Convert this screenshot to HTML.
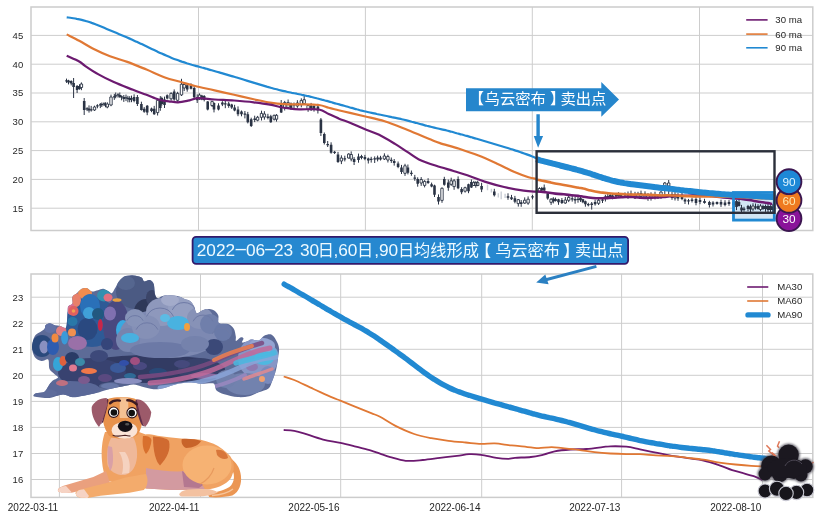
<!DOCTYPE html><html><head><meta charset="utf-8"><style>html,body{margin:0;padding:0;background:#fff;width:818px;height:520px;overflow:hidden}svg{display:block}text{font-family:"Liberation Sans","Noto Sans CJK SC",sans-serif}</style></head><body>
<svg width="818" height="520" viewBox="0 0 818 520">
<rect width="818" height="520" fill="#fff"/>
<path d="M31,208.2H812.8M31,179.4H812.8M31,150.6H812.8M31,121.8H812.8M31,93H812.8M31,64.2H812.8M31,35.4H812.8M198.5,7V230.5M365.4,7V230.5M532.3,7V230.5M699.5,7V230.5" stroke="#cdcdcd" stroke-width="1" fill="none"/>
<rect x="31" y="7" width="781.8" height="223.5" fill="none" stroke="#cccccc" stroke-width="1.5"/>
<text x="23.2" y="211.6" font-size="9.5" fill="#262626" text-anchor="end">15</text>
<text x="23.2" y="182.8" font-size="9.5" fill="#262626" text-anchor="end">20</text>
<text x="23.2" y="154" font-size="9.5" fill="#262626" text-anchor="end">25</text>
<text x="23.2" y="125.2" font-size="9.5" fill="#262626" text-anchor="end">30</text>
<text x="23.2" y="96.4" font-size="9.5" fill="#262626" text-anchor="end">35</text>
<text x="23.2" y="67.6" font-size="9.5" fill="#262626" text-anchor="end">40</text>
<text x="23.2" y="38.8" font-size="9.5" fill="#262626" text-anchor="end">45</text>
<path d="M31,479.5H812.8M31,453.5H812.8M31,427.4H812.8M31,401.4H812.8M31,375.3H812.8M31,349.3H812.8M31,323.3H812.8M31,297.2H812.8M59.4,274V497.4M200.5,274V497.4M340.7,274V497.4M481.7,274V497.4M621.6,274V497.4M762.5,274V497.4" stroke="#cdcdcd" stroke-width="1" fill="none"/>
<rect x="31" y="274" width="781.8" height="223.4" fill="none" stroke="#cccccc" stroke-width="1.5"/>
<text x="23.2" y="482.9" font-size="9.5" fill="#262626" text-anchor="end">16</text>
<text x="23.2" y="456.9" font-size="9.5" fill="#262626" text-anchor="end">17</text>
<text x="23.2" y="430.8" font-size="9.5" fill="#262626" text-anchor="end">18</text>
<text x="23.2" y="404.8" font-size="9.5" fill="#262626" text-anchor="end">19</text>
<text x="23.2" y="378.7" font-size="9.5" fill="#262626" text-anchor="end">20</text>
<text x="23.2" y="352.7" font-size="9.5" fill="#262626" text-anchor="end">21</text>
<text x="23.2" y="326.7" font-size="9.5" fill="#262626" text-anchor="end">22</text>
<text x="23.2" y="300.6" font-size="9.5" fill="#262626" text-anchor="end">23</text>
<text x="58.2" y="511" font-size="10" fill="#262626" text-anchor="end">2022-03-11</text>
<text x="199.3" y="511" font-size="10" fill="#262626" text-anchor="end">2022-04-11</text>
<text x="339.5" y="511" font-size="10" fill="#262626" text-anchor="end">2022-05-16</text>
<text x="480.5" y="511" font-size="10" fill="#262626" text-anchor="end">2022-06-14</text>
<text x="620.4" y="511" font-size="10" fill="#262626" text-anchor="end">2022-07-13</text>
<text x="761.3" y="511" font-size="10" fill="#262626" text-anchor="end">2022-08-10</text>
<rect x="733.5" y="192.5" width="40.8" height="27.6" fill="#d2e6f4"/>
<g id="candles">
<path d="M66.5,78.6V82.9M68.5,79.8V84.4M71.2,80.3V85.4M73.6,78V98M77.1,85V93M79.5,84.3V89.7M81.4,82.4V90.2M84.2,98V115M87.1,107.2V111.1M89,105.4V112.6M91.2,105.9V111.6M94.5,105.7V110.9M97.4,104.2V108.3M100.3,103V108.1M101.8,102.5V107M104,102.3V106.1M105.5,102.3V107.3M107.3,102.3V108.3M111,94.6V106.2M114.3,93.9V99.9M115.7,92.5V98.3M118,93.2V97.6M119.8,92.5V97.9M121.6,95.4V100.3M123.8,95V101.9M126,94.6V101.1M127.9,95.8V102.3M129.7,96.2V102.3M131.5,95.6V102.2M134.1,94.3V102.3M137.4,95V106M141.4,101.7V110.6M144.2,107.1V112.8M147.2,105V115.2M151.5,107.6V112.2M154.2,105.9V114.9M157.6,98.3V115.5M160.3,96.1V110.8M161.8,96.7V105.6M164.5,96.6V108M167.2,94.4V99.4M171.1,92.3V100.6M174.2,89.4V100.7M177.6,91.8V101.8M181.5,78.8V96M184.2,82.5V91.1M187.2,83.4V91.7M191,83.4V89.4M194.2,85.1V99.8M197.2,94.3V103M199.5,93.4V99.8M201.8,94.8V100.2M204.2,95.1V101.4M207.7,101.1V110.4M212.1,100.8V107M214,102.4V112.4M218.5,103.3V110.4M222.4,101.2V106.1M225.3,100.2V108.2M228.7,101.8V107.8M231.7,103.8V108.9M234.6,104.8V111.3M238,106.4V116.2M241.5,110.5V116.3M244.9,111V118.4M247.8,111.9V123.4M251.2,117.7V127M254.7,115.7V122.1M257.6,115.9V121.3M261.5,110.7V120.5M264.4,111.2V119.7M267.9,113.8V119.4M270.8,114.8V122.8M274.2,114.7V120.5M276.5,114.1V121.6M281.2,100V113M284.7,100.9V110.5M288.1,99.5V109M291,102.5V109.6M294,102.5V108.2M297.4,100.2V107.8M301.3,98.3V107.3M304.2,95.8V105M308.1,104.8V111.8M311.1,102.9V111M314,105V111.6M317.9,103.8V113.5M320.9,118V136M324.3,132.5V144.5M327.7,141V147M331.1,142.3V153.7M334.6,150.9V154M338,151.9V162.9M341.4,155.3V164.1M344.8,155.7V161.4M348.7,153.2V158.5M351.2,151.4V161.3M354.1,157.1V165M358.5,153.6V162.7M361.5,154.8V159.3M364.9,154.9V160.2M368.3,157.6V163.5M371.2,156.8V162.6M374.7,156.4V163M377.6,155.6V161.4M380.5,155.8V160.5M384.4,153.3V160M387.9,154.7V162.5M391.3,157.5V162.9M394.2,159V165.6M398.1,161.5V168.2M401.5,164.9V174M405,163.8V175.9M407.9,164.5V174.4M411.4,170.5V175.8M414.8,174.9V180.8M417.7,177.3V186.7M421.2,177.1V185.9M424.6,180.2V187.4M428.1,178.2V183.9M431.6,182.6V187.3M434.5,184.7V197M438.5,194.4V204.5M442,187.4V202.8M444.3,176.8V185.7M448.3,179.6V190.8M451.2,177.7V185.9M454.1,179V189.8M458.1,176.4V189.2M461.6,187.2V194.2M465.1,186.7V192.6M468.5,183.7V193.2M471.4,179.5V188M473.8,180.9V186M475.8,181.2V187.7M477.7,180.7V186.2M481.6,182.8V192.1M494.3,188.8V196.5M508,193.3V199.8M511.5,194.9V199.9M514.9,195.9V203.3M518.3,199V206.6M521.2,200V206.8M524.7,197.4V203.8M528.1,196.4V204.8M532.5,194.9V199.3M539.5,187.3V192.2M541.8,186.9V191.3M544.2,184.5V191M547.7,192.5V199.7M551.1,198V204.9M553.3,197.2V203.4M555.5,197.6V201.5M558.5,198.8V204.8M561.9,198V204M565.3,197V203.8M568.7,195.7V202.1M572.2,195.2V201.6M575.1,196.6V203.7M578,195.7V202.7M580.5,195.8V201.9M582.9,198.7V203.2M585.4,200.6V206.7M588.3,202.8V206.4M591.7,202V209.6M595.1,199.7V205.6M598.6,199V205M602.5,198V203M605.4,194.8V201.5M607.8,193.5V199.2M610.2,193.7V199M612.6,193.5V199.3M616,193V198.4M618.5,192.3V196.7M621,193.4V197.6M625,192.4V198.1M628,191.5V198.8M631,190.6V197.6M635,191.8V198.9M638,191.8V197.6M641,190.6V198.7M645,191.3V197.9M648,193.1V200.8M651,192.3V200.6M655,191.7V199.4M658,194.4V198.9M661,191.2V198.8M664.8,182V195M668.7,180V196M672,191.7V199.8M675,191.8V200.5M678,193.1V200.8M682,193V200.2M685,198.3V204M688.5,198.9V204.5M692,197.7V202.5M696,197.2V205.3M700,197.4V204.2M704.5,198.8V203.7M709.4,200.8V207.5M713,201.2V206.5M717,201.5V204.7M721,199.7V206.9M725,200.2V206.3M729,200.1V205.8M733.8,201.2V208.2M736.5,200V210.1M739,199V206.5M741.5,204.9V213.6M744,206.8V211.6M748,204.9V211.1M750.5,204.6V212.6M753,203.3V210.9M755.5,203.5V209.6M758,204.2V209.6M760.5,204.2V211.2M763,204.7V209.9M765.5,204.5V211.8M768,203.5V212.8M770.5,205.2V213M772.8,204.1V212.9" stroke="#2a3344" stroke-width="1" fill="none"/>
<path d="M65.2,80.3h2.6v1.3h-2.6zM67.2,80.5h2.6v2h-2.6zM69.9,81h2.6v2.5h-2.6zM72.3,83h2.6v4h-2.6zM75.8,86h2.6v4h-2.6zM78.2,86h2.6v3h-2.6zM82.9,101h2.6v9h-2.6zM85.8,108.3h2.6v1.3h-2.6zM87.7,108.5h2.6v2h-2.6zM89.9,109.3h2.6v1.3h-2.6zM96.1,105.3h2.6v1.3h-2.6zM99,104.3h2.6v1.3h-2.6zM100.5,104h2.6v1.2h-2.6zM102.7,103.3h2.6v1.3h-2.6zM104.2,104.3h2.6v1.3h-2.6zM113,96.3h2.6v1.3h-2.6zM114.4,95.3h2.6v1.3h-2.6zM116.7,94.3h2.6v1.3h-2.6zM118.5,95h2.6v2h-2.6zM120.3,96.3h2.6v1.3h-2.6zM122.5,97h2.6v2h-2.6zM124.7,97.3h2.6v1.3h-2.6zM126.6,97.8h2.6v1.3h-2.6zM128.4,98h2.6v2h-2.6zM130.2,98.3h2.6v1.3h-2.6zM132.8,97h2.6v4h-2.6zM136.1,97h2.6v7h-2.6zM140.1,104h2.6v6h-2.6zM142.9,108.8h2.6v3h-2.6zM145.9,105.7h2.6v6.9h-2.6zM150.2,108.4h2.6v2.6h-2.6zM152.9,108.8h2.6v5.4h-2.6zM159,98.8h2.6v9.2h-2.6zM160.5,98h2.6v6h-2.6zM163.2,99.5h2.6v5.4h-2.6zM165.9,95.3h2.6v3.1h-2.6zM172.9,91.5h2.6v8h-2.6zM185.9,85.3h2.6v4.2h-2.6zM189.7,85.7h2.6v3.1h-2.6zM192.9,88h2.6v9.2h-2.6zM195.9,97.2h2.6v3.1h-2.6zM200.5,95.5h2.6v4h-2.6zM202.9,96h2.6v4h-2.6zM206.4,101.6h2.6v7.9h-2.6zM212.7,103h2.6v6.5h-2.6zM217.2,105.5h2.6v4h-2.6zM221.1,102.6h2.6v2h-2.6zM224,103.3h2.6v1.3h-2.6zM227.4,103.6h2.6v2.4h-2.6zM230.4,104.6h2.6v2.9h-2.6zM233.3,107.5h2.6v2.9h-2.6zM236.7,109.5h2.6v4.8h-2.6zM240.2,111.4h2.6v2.9h-2.6zM243.6,113.4h2.6v1.3h-2.6zM246.5,114.3h2.6v7.9h-2.6zM249.9,119.2h2.6v6.8h-2.6zM253.4,118.6h2.6v1.3h-2.6zM266.6,116.6h2.6v1.3h-2.6zM269.5,116.3h2.6v5.9h-2.6zM279.9,104.6h2.6v7.8h-2.6zM289.7,103.6h2.6v4.9h-2.6zM292.7,104.1h2.6v1.3h-2.6zM309.8,105.5h2.6v3h-2.6zM312.7,106h2.6v3h-2.6zM316.6,106.5h2.6v3.9h-2.6zM319.6,119.4h2.6v13.7h-2.6zM323,134.1h2.6v8.8h-2.6zM326.4,144h2.6v1.3h-2.6zM329.8,144.8h2.6v7.9h-2.6zM333.3,151.7h2.6v1.3h-2.6zM336.7,154.6h2.6v7.4h-2.6zM343.5,158.3h2.6v1.3h-2.6zM352.8,159h2.6v3h-2.6zM357.2,156.5h2.6v3.5h-2.6zM360.2,156h2.6v2h-2.6zM363.6,157h2.6v2h-2.6zM367,158.5h2.6v2h-2.6zM369.9,158.8h2.6v1.3h-2.6zM373.4,158.3h2.6v1.3h-2.6zM376.3,157.5h2.6v2h-2.6zM379.2,157.5h2.6v2h-2.6zM390,159.8h2.6v1.3h-2.6zM392.9,161h2.6v2h-2.6zM396.8,163.5h2.6v3.5h-2.6zM400.2,167.5h2.6v4.6h-2.6zM406.6,167.5h2.6v5.2h-2.6zM410.1,172.7h2.6v1.3h-2.6zM413.5,177.5h2.6v1.3h-2.6zM416.4,179.1h2.6v4.6h-2.6zM426.8,181h2.6v2h-2.6zM430.3,184.3h2.6v2.3h-2.6zM433.2,185.4h2.6v9.3h-2.6zM437.2,197h2.6v4.6h-2.6zM443,179.1h2.6v5.7h-2.6zM447,182.5h2.6v5.2h-2.6zM456.8,179.1h2.6v9.2h-2.6zM460.3,188.9h2.6v3.4h-2.6zM467.2,184.3h2.6v6.9h-2.6zM470.1,182.1h2.6v5.4h-2.6zM480.3,186h2.6v3.5h-2.6zM493,191.4h2.6v3.9h-2.6zM506.7,196.3h2.6v1.5h-2.6zM510.2,197.3h2.6v1.9h-2.6zM513.6,198.3h2.6v3.4h-2.6zM519.9,202.2h2.6v1.9h-2.6zM531.2,196.2h2.6v1.3h-2.6zM540.5,188h2.6v2.5h-2.6zM542.9,187.6h2.6v2.9h-2.6zM546.4,193.5h2.6v4.9h-2.6zM552,198.5h2.6v3h-2.6zM554.2,199h2.6v2h-2.6zM557.2,199.3h2.6v3h-2.6zM560.6,200h2.6v3h-2.6zM570.9,198.3h2.6v1.3h-2.6zM573.8,199h2.6v1.5h-2.6zM576.7,198.7h2.6v1.3h-2.6zM579.2,198h2.6v2.3h-2.6zM581.6,199.3h2.6v3h-2.6zM584.1,201.3h2.6v2.9h-2.6zM587,204h2.6v1.3h-2.6zM590.4,203.6h2.6v1.3h-2.6zM593.8,202h2.6v2.3h-2.6zM601.2,199.5h2.6v1.3h-2.6zM604.1,196.5h2.6v1.3h-2.6zM606.5,196.1h2.6v1.3h-2.6zM608.9,195h2.6v2.5h-2.6zM611.3,195.6h2.6v1.3h-2.6zM614.7,194h2.6v2.5h-2.6zM617.2,193.5h2.6v2.5h-2.6zM619.7,194h2.6v3h-2.6zM623.7,194.1h2.6v1.3h-2.6zM626.7,194.6h2.6v1.3h-2.6zM629.7,193.5h2.6v2.5h-2.6zM653.7,194h2.6v3h-2.6zM656.7,195h2.6v3h-2.6zM670.7,194h2.6v4h-2.6zM676.7,195h2.6v3.5h-2.6zM680.7,195.5h2.6v3.5h-2.6zM683.7,199.5h2.6v2h-2.6zM687.2,200.3h2.6v1.3h-2.6zM690.7,199.5h2.6v1.5h-2.6zM694.7,199h2.6v4h-2.6zM698.7,200h2.6v2h-2.6zM703.2,201h2.6v2h-2.6zM708.1,202h2.6v3h-2.6zM711.7,202.5h2.6v2h-2.6zM715.7,202h2.6v2h-2.6zM719.7,202h2.6v2.5h-2.6zM723.7,202.5h2.6v2.5h-2.6zM727.7,202h2.6v2h-2.6zM732.5,202h2.6v3.3h-2.6zM735.2,201h2.6v6h-2.6zM737.7,202h2.6v4h-2.6zM740.2,207.6h2.6v2.9h-2.6zM742.7,208.6h2.6v1.3h-2.6zM746.7,206h2.6v3h-2.6zM749.2,206.5h2.6v3h-2.6zM754.2,206.5h2.6v1.3h-2.6zM756.7,206h2.6v3h-2.6zM761.7,206h2.6v3h-2.6zM764.2,205.9h2.6v3.1h-2.6zM766.7,206h2.6v4h-2.6zM769.2,206h2.6v4h-2.6zM771.5,206.5h2.6v3.5h-2.6z" fill="#2a3344"/>
<path d="M80.2,84h2.4v3.5h-2.4zM93.3,107h2.4v3h-2.4zM106.1,104h2.4v3h-2.4zM109.8,97h2.4v8h-2.4zM156.4,100.3h2.4v12.3h-2.4zM169.9,93.4h2.4v5.4h-2.4zM176.4,93.4h2.4v6.9h-2.4zM180.3,84.2h2.4v10.7h-2.4zM183,84.5h2.4v3.5h-2.4zM198.3,95h2.4v4h-2.4zM210.9,101.6h2.4v3.9h-2.4zM256.4,117.3h2.4v2.9h-2.4zM260.3,113.4h2.4v3.9h-2.4zM263.2,114h2.4v3h-2.4zM273,115.3h2.4v3.9h-2.4zM275.3,115.3h2.4v3.9h-2.4zM283.5,102.6h2.4v4.9h-2.4zM286.9,102.6h2.4v4.9h-2.4zM296.2,103h2.4v3h-2.4zM300.1,100.6h2.4v4h-2.4zM303,99.7h2.4v3.9h-2.4zM306.9,105.5h2.4v4h-2.4zM340.2,158h2.4v3h-2.4zM347.5,154.1h2.4v3.9h-2.4zM350,154.5h2.4v4.5h-2.4zM383.2,156h2.4v3h-2.4zM386.7,156.5h2.4v3.5h-2.4zM403.8,165.8h2.4v7.5h-2.4zM420,179.5h2.4v3.5h-2.4zM423.4,181.4h2.4v4h-2.4zM440.8,188.3h2.4v12.1h-2.4zM450,180.8h2.4v3.5h-2.4zM452.9,180.8h2.4v5.8h-2.4zM463.9,187.7h2.4v3.5h-2.4zM472.6,182.6h2.4v2.9h-2.4zM474.6,182.6h2.4v2.9h-2.4zM476.5,182.6h2.4v2.9h-2.4zM517.1,199.7h2.4v3.9h-2.4zM523.5,200.2h2.4v2.9h-2.4zM526.9,199.2h2.4v3.9h-2.4zM538.3,188.5h2.4v2.9h-2.4zM549.9,199.3h2.4v3h-2.4zM564.1,200h2.4v3h-2.4zM567.5,197.4h2.4v2.9h-2.4zM597.4,200.3h2.4v3h-2.4zM633.8,195h2.4v3h-2.4zM636.8,194h2.4v3h-2.4zM639.8,193.5h2.4v3h-2.4zM643.8,194h2.4v3h-2.4zM646.8,195h2.4v3h-2.4zM649.8,195h2.4v3.5h-2.4zM659.8,192h2.4v4h-2.4zM663.6,183h2.4v3h-2.4zM667.5,183h2.4v3h-2.4zM673.8,194.5h2.4v3.5h-2.4zM751.8,206h2.4v3h-2.4zM759.3,206h2.4v3.5h-2.4z" fill="#fff" stroke="#2a3344" stroke-width="0.9"/>
<path d="M487.5,184.4V190.3M491.4,188.8V192.6M498.3,193.2V197.6M501.2,191.5V199.2M505.1,193.8V197.9" stroke="#c9ced6" stroke-width="1.4" fill="none"/>
</g>
<g fill="none" stroke-linejoin="round" stroke-linecap="butt">
<path d="M66.7,17.3C67.5,17.4 70,17.8 71.7,18C73.4,18.3 75,18.5 76.7,18.9C78.4,19.2 80,19.5 81.7,19.9C83.4,20.3 85,20.8 86.7,21.3C88.4,21.8 90,22.3 91.7,22.9C93.4,23.4 95,24.1 96.7,24.7C98.4,25.4 100,26.1 101.7,26.8C103.4,27.5 105,28.2 106.7,28.9C108.4,29.6 110,30.3 111.7,31C113.4,31.7 115,32.4 116.7,33.1C118.4,33.8 120,34.5 121.7,35.2C123.4,35.9 125,36.6 126.7,37.3C128.4,38.1 130,38.8 131.7,39.5C133.4,40.3 135,41 136.7,41.8C138.4,42.6 140,43.3 141.7,44.1C143.4,44.9 145,45.7 146.7,46.5C148.4,47.3 150,48.1 151.7,48.9C153.4,49.7 155,50.5 156.7,51.3C158.4,52.1 160,52.9 161.7,53.6C163.4,54.4 165,55.1 166.7,55.8C168.4,56.5 170,57.2 171.7,57.9C173.4,58.6 175,59.2 176.7,59.8C178.4,60.5 180,61 181.7,61.6C183.4,62.1 185,62.6 186.7,63.2C188.4,63.7 190,64.2 191.7,64.7C193.4,65.1 195,65.6 196.7,66.1C198.4,66.6 200,67 201.7,67.5C203.4,67.9 205,68.4 206.7,68.8C208.4,69.3 210,69.8 211.7,70.2C213.4,70.7 215,71.2 216.7,71.7C218.4,72.2 220,72.6 221.7,73.1C223.4,73.6 225,74.1 226.7,74.6C228.4,75.1 230,75.6 231.7,76.1C233.4,76.6 235,77 236.7,77.5C238.4,78 240,78.5 241.7,79C243.4,79.6 245,80.1 246.7,80.6C248.4,81.1 250,81.6 251.7,82.1C253.4,82.6 255,83.1 256.7,83.6C258.4,84.1 260,84.6 261.7,85.1C263.4,85.6 265,86.1 266.7,86.6C268.4,87 270,87.5 271.7,88C273.4,88.5 275,88.9 276.7,89.3C278.4,89.8 280,90.2 281.7,90.6C283.4,91 285,91.3 286.7,91.7C288.4,92.1 290,92.4 291.7,92.8C293.4,93.1 295,93.4 296.7,93.7C298.4,94.1 300,94.4 301.7,94.8C303.4,95.1 305,95.5 306.7,95.9C308.4,96.2 310,96.6 311.7,97C313.4,97.4 315,97.8 316.7,98.3C318.4,98.7 320,99.1 321.7,99.6C323.4,100 325,100.5 326.7,100.9C328.4,101.4 330,101.9 331.7,102.3C333.4,102.8 335,103.3 336.7,103.7C338.4,104.2 340,104.6 341.7,105.1C343.4,105.6 345,106 346.7,106.5C348.4,107 350,107.4 351.7,107.9C353.4,108.4 355,108.8 356.7,109.3C358.4,109.7 360,110.2 361.7,110.6C363.4,111 365,111.4 366.7,111.8C368.4,112.2 370,112.6 371.7,112.9C373.4,113.3 375,113.6 376.7,114C378.4,114.3 380,114.7 381.7,115C383.4,115.4 385,115.7 386.7,116C388.4,116.4 390,116.7 391.7,117.1C393.4,117.4 395,117.8 396.7,118.1C398.4,118.5 400,118.8 401.7,119.2C403.4,119.6 405,120 406.7,120.4C408.4,120.8 410,121.2 411.7,121.7C413.4,122.1 415,122.6 416.7,123C418.4,123.5 420,124 421.7,124.4C423.4,124.9 425,125.3 426.7,125.8C428.4,126.2 430,126.6 431.7,127C433.4,127.4 435,127.8 436.7,128.2C438.4,128.6 440,129 441.7,129.4C443.4,129.8 445,130.1 446.7,130.5C448.4,130.9 450,131.4 451.7,131.8C453.4,132.3 455,132.7 456.7,133.2C458.4,133.6 460,134.1 461.7,134.5C463.4,135 465,135.4 466.7,135.9C468.4,136.4 470,136.8 471.7,137.3C473.4,137.8 475,138.3 476.7,138.7C478.4,139.2 480,139.7 481.7,140.2C483.4,140.7 485,141.2 486.7,141.7C488.4,142.2 490,142.7 491.7,143.2C493.4,143.7 495,144.2 496.7,144.7C498.4,145.2 500,145.7 501.7,146.2C503.4,146.7 505,147.2 506.7,147.7C508.4,148.2 510,148.8 511.7,149.3C513.4,149.8 515,150.4 516.7,150.9C518.4,151.5 520,152 521.7,152.6C523.4,153.2 525,153.8 526.7,154.4C528.4,155 530.1,155.6 531.7,156.3C533.4,156.9 535.8,158 536.6,158.3" stroke="#2189d2" stroke-width="2.2"/>
<path d="M66.7,34.4C68.8,35.5 74.9,38.4 79.2,40.8C83.5,43.1 87.6,45.9 92.7,48.5C97.8,51.1 104.2,54 110,56.2C115.8,58.4 121.2,59.7 127.3,61.9C133.4,64.1 140.2,67 146.5,69.6C152.8,72.2 159.3,75.5 164.9,77.5C170.5,79.5 175.3,80.4 180.3,81.8C185.3,83.2 189.3,84.6 195,86C200.7,87.4 208.1,88.9 214.6,90.4C221.1,91.9 227.6,93.3 234.1,94.8C240.6,96.3 247.7,97.9 253.7,99.2C259.7,100.5 264.9,101.8 270,102.6C275.1,103.4 279.6,103.9 284.6,104.2C289.6,104.5 294.3,104.3 300,104.4C305.7,104.5 314.1,104.4 318.9,105C323.7,105.6 325.4,106.9 328.7,107.8C332,108.7 334.9,109.3 338.5,110.2C342.1,111.1 345.5,111.9 350,112.9C354.5,114 359.6,115.1 365.4,116.5C371.2,117.9 377.6,119 384.6,121.3C391.7,123.5 400,127 407.7,130C415.4,133.1 425.4,137.4 430.8,139.6C436.2,141.8 435.3,141.6 440,143.1C444.7,144.6 452.8,146.7 459.2,148.8C465.6,150.9 472.1,153.1 478.5,155.6C484.9,158.1 491.8,161.3 497.7,164C503.6,166.7 508.8,169.6 513.9,171.8C519,174 524.7,176 528.5,177.2C532.3,178.4 535.2,178.5 536.6,178.8" stroke="#e07834" stroke-width="2.2"/>
<path d="M66.7,55.8C68.8,56.8 76.2,59.8 79.2,61.5C82.2,63.2 81.8,63.6 85,65.8C88.2,68 93.7,71.7 98.5,74.4C103.3,77.1 108,79.5 113.8,82.1C119.5,84.7 127.7,87.7 133,89.8C138.3,91.9 142.3,93.2 145.7,94.5C149.1,95.8 150.8,96.6 153.4,97.6C156,98.6 158.5,99.7 161.1,100.3C163.7,100.9 166,101 168.8,101.3C171.6,101.6 174.8,102.4 178,102.3C181.2,102.2 184.7,101.4 188,100.7C191.3,100 193.6,98.4 198,98.2C202.4,98 208.6,99.1 214.6,99.5C220.6,99.9 227.6,100 234.1,100.5C240.6,101 247.7,101.6 253.7,102.3C259.7,103 265.6,103.8 270,104.6C274.4,105.4 276.5,106.3 279.8,107C283.1,107.7 286.4,108.1 289.6,108.5C292.9,108.9 294.4,109.1 299.3,109.3C304.2,109.5 314,108.7 318.9,109.5C323.8,110.3 325.4,112.5 328.7,114C332,115.5 334.9,117 338.5,118.4C342.1,119.9 345.8,121 350,122.7C354.2,124.4 359.1,126.8 363.9,128.8C368.7,130.8 373.4,132.1 378.6,134.6C383.8,137.1 390.2,141 395,143.9C399.8,146.8 403.3,149.3 407.3,151.9C411.3,154.5 414.1,157.1 418.9,159.4C423.7,161.7 430.4,163.9 436.2,165.8C442,167.7 447.9,169.3 453.5,171C459.1,172.7 464.8,174.4 470,176.2C475.2,178 478.9,179.8 484.6,181.6C490.3,183.4 497.6,185.5 504.1,187C510.6,188.5 518.3,189.8 523.7,190.6C529.1,191.4 534.5,191.5 536.6,191.7" stroke="#6c1a70" stroke-width="2.2"/>
<path d="M535.9,191.5C536.7,191.5 539.4,191.5 541,191.7C542.7,191.8 543.4,191.9 545.8,192.2C548.2,192.5 552.3,193.3 555.3,193.6C558.3,194 561.2,194.1 563.8,194.3C566.5,194.6 568.9,194.9 571.5,195.2C574,195.5 577.1,195.8 579.1,196C581,196.3 581.8,196.5 583.4,196.7C585,197 586.4,197.2 588.5,197.5C590.6,197.8 593.4,198.2 596.1,198.3C598.8,198.4 601.7,198.2 604.5,198.1C607.3,198 610.2,197.8 613,197.7C615.8,197.5 619,197.4 621.4,197.2C623.8,197.1 625.4,196.9 627.3,196.8C629.3,196.8 631,196.8 633.3,197C635.5,197.1 638.6,197.5 640.9,197.7C643.1,197.8 645.3,197.9 646.8,197.9C648.3,197.9 648.2,197.7 650.1,197.6C651.9,197.6 655.6,197.6 657.9,197.5C660.3,197.3 662.2,197.1 664.2,196.9C666.1,196.7 667.4,196.4 669.7,196.2C671.9,196 674.9,195.9 677.5,195.8C680.1,195.7 682.7,195.8 685.4,195.7C688,195.6 691.2,195.4 693.2,195.3C695.2,195.2 695.2,195.1 697.2,195.1C699.1,195.1 702.6,195.1 705,195.3C707.5,195.4 709.3,195.8 711.8,196C714.2,196.3 717,196.6 719.6,196.9C722.2,197.2 724.9,197.5 727.5,197.8C730.1,198 732.7,198.2 735.3,198.4C737.9,198.6 740.6,198.8 743.2,199.1C745.8,199.4 748.7,199.9 751,200.3C753.4,200.7 755.3,201.2 757.3,201.5C759.3,201.9 761,202 762.8,202.3C764.6,202.6 766.7,202.9 768.3,203.1C769.8,203.4 771.6,203.9 772.2,204" stroke="#6c1a70" stroke-width="2.6"/>
<path d="M535.9,179.7C536.7,179.8 538.6,180 541,180.4C543.5,180.9 547.4,181.8 550.6,182.4C553.7,183.1 557.8,183.9 560,184.3C562.3,184.8 562.3,184.7 563.8,185C565.4,185.3 567,185.6 569.5,186C572.1,186.5 576.7,187.3 579.1,187.8C581.4,188.2 581.4,188.1 583.4,188.6C585.4,189 588,189.9 590.8,190.5C593.6,191.2 597.3,191.9 600.3,192.4C603.3,192.8 605.9,193.1 608.7,193.3C611.6,193.6 614.4,193.7 617.2,193.9C620,194 623,194.1 625.7,194.3C628.3,194.4 630.9,194.5 633.3,194.6C635.7,194.6 637.8,194.4 640,194.5C642.3,194.5 645.1,194.7 646.8,194.8C648.5,194.9 648.2,194.9 650.1,194.9C651.9,195 656,195.2 657.9,195.3C659.9,195.4 660.1,195.5 661.8,195.5C663.5,195.5 666.2,195.3 668.1,195.3C670.1,195.3 671.4,195.4 673.6,195.5C675.8,195.6 678.8,195.7 681.5,195.9C684.1,196 686.7,196.2 689.3,196.3C691.9,196.4 694.5,196.4 697.2,196.5C699.8,196.5 702.6,196.5 705,196.5C707.5,196.5 709.3,196.4 711.8,196.4C714.2,196.5 717,196.5 719.6,196.6C722.2,196.6 724.9,196.6 727.5,196.7C730.1,196.7 732.7,196.8 735.3,196.9C737.9,197 740.6,197.1 743.2,197.3C745.8,197.4 748.4,197.7 751,197.8C753.7,197.9 756.3,198 758.9,198.1C761.5,198.2 764.4,198.3 766.7,198.3C769.1,198.3 772,198.3 773,198.4" stroke="#e07834" stroke-width="2.6"/>
<path d="M536.1,159.2C536.8,159.4 538.8,159.9 540.1,160.3C541.4,160.6 542.8,161 544.1,161.3C545.4,161.6 546.8,162 548.1,162.3C549.4,162.7 550.8,163 552.1,163.4C553.4,163.7 554.8,164.1 556.1,164.4C557.4,164.8 558.8,165.1 560.1,165.5C561.4,165.8 562.8,166.2 564.1,166.5C565.4,166.8 566.8,167.2 568.1,167.5C569.4,167.8 570.8,168.1 572.1,168.5C573.4,168.8 574.8,169.2 576.1,169.5C577.4,169.9 578.8,170.2 580.1,170.6C581.4,171 582.8,171.4 584.1,171.8C585.4,172.2 586.8,172.6 588.1,173C589.4,173.4 590.8,173.8 592.1,174.3C593.4,174.7 594.8,175.2 596.1,175.6C597.4,176 598.8,176.5 600.1,176.9C601.4,177.3 602.8,177.8 604.1,178.2C605.4,178.6 606.8,179 608.1,179.4C609.4,179.8 610.8,180.2 612.1,180.6C613.4,180.9 614.8,181.2 616.1,181.5C617.4,181.8 618.8,182.1 620.1,182.4C621.4,182.6 622.8,182.8 624.1,183.1C625.4,183.3 626.8,183.5 628.1,183.7C629.4,183.9 630.8,184 632.1,184.2C633.4,184.4 634.8,184.6 636.1,184.7C637.4,184.9 638.8,185.1 640.1,185.2C641.4,185.4 642.8,185.6 644.1,185.7C645.4,185.9 646.8,186.1 648.1,186.2C649.4,186.4 650.8,186.6 652.1,186.7C653.4,186.9 654.8,187 656.1,187.2C657.4,187.4 658.8,187.5 660.1,187.7C661.4,187.8 662.8,188 664.1,188.1C665.4,188.2 666.8,188.4 668.1,188.5C669.4,188.7 670.8,188.8 672.1,188.9C673.4,189.1 674.8,189.2 676.1,189.4C677.4,189.5 678.8,189.7 680.1,189.9C681.4,190 682.8,190.2 684.1,190.4C685.4,190.5 686.8,190.7 688.1,190.9C689.4,191 690.8,191.2 692.1,191.3C693.4,191.5 694.8,191.6 696.1,191.7C697.4,191.9 698.8,192 700.1,192.2C701.4,192.3 702.8,192.4 704.1,192.6C705.4,192.7 706.8,192.8 708.1,192.9C709.4,193.1 710.8,193.2 712.1,193.3C713.4,193.4 714.8,193.5 716.1,193.7C717.4,193.8 718.8,193.9 720.1,194C721.4,194.1 722.8,194.2 724.1,194.3C725.4,194.4 726.8,194.4 728.1,194.5C729.4,194.6 730.8,194.7 732.1,194.7C733.4,194.8 734.8,194.9 736.1,194.9C737.4,195 738.8,195.1 740.1,195.1C741.4,195.2 742.8,195.2 744.1,195.3C745.4,195.4 746.8,195.5 748.1,195.5C749.4,195.6 750.8,195.7 752.1,195.8C753.4,195.9 754.8,196 756.1,196.1C757.4,196.1 758.8,196.2 760.1,196.3C761.4,196.4 762.8,196.5 764.1,196.6C765.4,196.7 766.8,196.7 768.1,196.8C769.4,196.8 771.1,196.9 772.1,197C773,197 773.5,197.1 773.8,197.1" stroke="#2189d2" stroke-width="6"/>
</g>
<rect x="733.5" y="192.5" width="40.8" height="27.6" fill="none" stroke="#2189d2" stroke-width="2.8"/>
<rect x="536.6" y="151.3" width="237.9" height="61.5" fill="none" stroke="#2b2f3a" stroke-width="2.4"/>
<circle cx="789" cy="218.6" r="12.4" fill="#8a139a" stroke="#3b1650" stroke-width="1.9"/>
<text x="789" y="222.8" font-size="11.8" fill="#ffffff" text-anchor="middle">30</text>
<circle cx="789" cy="200.3" r="12.4" fill="#ef7a20" stroke="#3b1650" stroke-width="1.9"/>
<text x="789" y="204.5" font-size="11.8" fill="#ffe9b0" text-anchor="middle">60</text>
<circle cx="789" cy="181.7" r="12.4" fill="#1e88d6" stroke="#3b1650" stroke-width="1.9"/>
<text x="789" y="185.9" font-size="11.8" fill="#dff6ff" text-anchor="middle">90</text>
<path d="M466,88.2H601.3V82L619,99.6L601.3,116.8V111.3H466Z" fill="#2686cc"/>
<text y="104.3" font-size="15.3" fill="#ffffff" style="font-family:'Noto Sans CJK SC',sans-serif"><tspan x="468.8">【</tspan><tspan x="484.6">乌云密布</tspan><tspan x="550">】</tspan><tspan x="560.4">卖出点</tspan></text>
<path d="M536.4,114.2H539.8V135.9H543.1L538.1,147.7L533.8,135.9H536.4Z" fill="#2686cc"/>
<path d="M746.2,19.9H767.6" stroke="#6c1a70" stroke-width="1.6"/>
<text x="775.3" y="23.3" font-size="9.6" fill="#262626">30 ma</text>
<path d="M746.2,34.1H767.6" stroke="#e07834" stroke-width="1.6"/>
<text x="775.3" y="37.5" font-size="9.6" fill="#262626">60 ma</text>
<path d="M746.2,47.8H767.6" stroke="#2189d2" stroke-width="1.6"/>
<text x="775.3" y="51.2" font-size="9.6" fill="#262626">90 ma</text>
<g fill="none" stroke-linejoin="round">
<path d="M283.7,430C285.4,430.1 290.8,430.2 294.2,430.8C297.6,431.4 299,431.8 303.8,433.3C308.6,434.8 317,438 323.1,439.6C329.2,441.2 334.9,441.7 340.4,442.9C345.8,444.1 350.7,445.4 355.8,446.7C360.9,448 367.2,449.5 371.2,450.6C375.2,451.8 376.8,452.5 380,453.6C383.2,454.7 386,455.9 390.3,457.1C394.6,458.3 400.3,460.3 405.7,460.8C411.1,461.3 417.1,460.5 422.8,460C428.5,459.5 434.2,458.6 439.9,457.9C445.6,457.2 452.1,456.5 457,455.9C461.9,455.3 465,454.4 469,454.2C473,454 476.4,454.2 481,454.8C485.6,455.4 491.8,457.2 496.4,457.9C501,458.6 505.3,458.8 508.4,458.8C511.5,458.8 511.2,458.1 515,457.8C518.8,457.5 526.1,457.5 530.9,457C535.7,456.5 539.6,455.5 543.6,454.6C547.6,453.7 550.2,452.2 554.7,451.4C559.2,450.5 565.3,449.9 570.6,449.5C575.9,449.1 581.2,449.4 586.5,449C591.8,448.6 598.4,447.6 602.4,447.1C606.4,446.7 606.4,446.4 610.4,446.3C614.4,446.2 621.4,446.2 626.3,446.7C631.2,447.2 635.1,448.4 640,449.4C644.9,450.4 650.6,451.5 655.9,452.6C661.2,453.7 666.5,454.9 671.8,455.8C677.1,456.7 682.4,457.3 687.7,458.1C693,458.9 698.3,459.3 703.6,460.5C708.9,461.7 714.7,463.7 719.5,465.3C724.3,466.9 728.2,468.8 732.2,470.1C736.2,471.4 739.6,472.1 743.3,473.2C747,474.2 751.2,475.3 754.4,476.4C757.6,477.5 761.1,479.4 762.4,480" stroke="#6c1a70" stroke-width="1.8"/>
<path d="M283.7,376.5C285.4,377.1 289.2,377.9 294.2,380C299.2,382.1 307.1,386.1 313.5,389C319.9,391.9 328.2,395.8 332.7,397.7C337.2,399.6 337.2,399.3 340.4,400.6C343.6,401.9 346.8,403.3 351.9,405.4C357,407.5 366.5,411.2 371.2,413.1C375.9,415 376,414.7 380,416.8C384,418.9 389.3,422.7 395,425.6C400.7,428.5 408.1,431.9 414.2,434C420.2,436.1 425.6,437.1 431.3,438.2C437,439.3 442.8,440.1 448.5,440.8C454.2,441.5 460.2,442 465.6,442.5C471,443 476.1,443.8 481,443.9C485.9,444 490.1,443.2 494.7,443.4C499.3,443.6 505,444.7 508.4,445.1C511.8,445.5 511.2,445.2 515,445.6C518.8,446 526.9,447 530.9,447.4C534.9,447.8 535.3,448.2 538.8,448.2C542.2,448.1 547.6,447.1 551.6,447.1C555.6,447.1 558.2,447.8 562.7,448.2C567.2,448.6 573.3,449.1 578.6,449.8C583.9,450.5 589.2,451.6 594.5,452.2C599.8,452.8 605.1,453.2 610.4,453.5C615.7,453.8 621.4,454 626.3,454.1C631.2,454.2 635.1,454 640,454.2C644.9,454.4 650.6,455 655.9,455.3C661.2,455.6 666.5,455.8 671.8,456.2C677.1,456.6 682.4,457.2 687.7,457.8C693,458.4 698.3,458.9 703.6,459.7C708.9,460.5 714.2,461.8 719.5,462.6C724.8,463.4 730.1,464 735.4,464.5C740.7,465 746.5,465.5 751.3,465.8C756.1,466.1 761.9,466.3 764,466.4" stroke="#e07834" stroke-width="1.8"/>
<path d="M284.2,284.2C285,284.7 287.5,286.1 289.2,287C290.9,288 292.5,288.9 294.2,289.9C295.9,290.8 297.5,291.8 299.2,292.8C300.9,293.7 302.5,294.7 304.2,295.7C305.9,296.6 307.5,297.6 309.2,298.6C310.9,299.6 312.5,300.6 314.2,301.6C315.9,302.6 317.5,303.6 319.2,304.5C320.9,305.5 322.5,306.5 324.2,307.5C325.9,308.5 327.5,309.5 329.2,310.4C330.9,311.4 332.5,312.4 334.2,313.3C335.9,314.3 337.5,315.3 339.2,316.2C340.9,317.2 342.5,318.1 344.2,319.1C345.9,320 347.5,320.9 349.2,321.8C350.9,322.7 352.5,323.6 354.2,324.5C355.9,325.4 357.5,326.3 359.2,327.2C360.9,328.1 362.5,329 364.2,330C365.9,331 367.5,331.9 369.2,333C370.9,334 372.5,335 374.2,336.1C375.9,337.2 377.5,338.4 379.2,339.5C380.9,340.7 382.5,341.9 384.2,343C385.9,344.2 387.5,345.4 389.2,346.6C390.9,347.7 392.5,348.9 394.2,350.1C395.9,351.3 397.5,352.5 399.2,353.7C400.9,354.9 402.5,356.1 404.2,357.3C405.9,358.6 407.5,359.8 409.2,361.1C410.9,362.4 412.5,363.6 414.2,364.9C415.9,366.2 417.5,367.5 419.2,368.7C420.9,370 422.5,371.2 424.2,372.5C425.9,373.7 427.5,374.9 429.2,376.1C430.9,377.2 432.5,378.3 434.2,379.3C435.9,380.4 437.5,381.4 439.2,382.4C440.9,383.4 442.5,384.3 444.2,385.2C445.9,386.1 447.5,386.9 449.2,387.7C450.9,388.5 452.5,389.2 454.2,389.9C455.9,390.6 457.5,391.3 459.2,391.9C460.9,392.5 462.5,393.1 464.2,393.7C465.9,394.3 467.5,394.8 469.2,395.3C470.9,395.9 472.5,396.4 474.2,396.9C475.9,397.4 477.5,397.9 479.2,398.4C480.9,398.9 482.5,399.4 484.2,399.9C485.9,400.4 487.5,400.9 489.2,401.3C490.9,401.8 492.5,402.3 494.2,402.8C495.9,403.2 497.5,403.7 499.2,404.2C500.9,404.6 502.5,405.1 504.2,405.6C505.9,406 507.5,406.5 509.2,407C510.9,407.4 512.5,407.9 514.2,408.4C515.9,408.8 517.5,409.3 519.2,409.8C520.9,410.3 522.5,410.8 524.2,411.2C525.9,411.7 527.5,412.2 529.2,412.7C530.9,413.1 532.5,413.6 534.2,414C535.9,414.5 537.5,414.9 539.2,415.3C540.9,415.8 542.5,416.2 544.2,416.5C545.9,416.9 547.5,417.3 549.2,417.7C550.9,418 552.5,418.4 554.2,418.7C555.9,419.1 557.5,419.5 559.2,419.9C560.9,420.3 562.5,420.7 564.2,421.1C565.9,421.5 567.5,422 569.2,422.4C570.9,422.9 572.5,423.4 574.2,423.9C575.9,424.4 577.5,424.9 579.2,425.4C580.9,425.9 582.5,426.4 584.2,426.9C585.9,427.4 587.5,427.9 589.2,428.3C590.9,428.8 592.5,429.3 594.2,429.7C595.9,430.2 597.5,430.7 599.2,431.1C600.9,431.5 602.5,431.9 604.2,432.3C605.9,432.7 607.5,433.1 609.2,433.5C610.9,433.9 612.5,434.2 614.2,434.6C615.9,435 617.5,435.3 619.2,435.7C620.9,436.1 622.5,436.4 624.2,436.8C625.9,437.2 627.5,437.6 629.2,438C630.9,438.4 632.5,438.7 634.2,439.1C635.9,439.5 637.5,439.9 639.2,440.3C640.9,440.6 642.5,441 644.2,441.3C645.9,441.7 647.5,442 649.2,442.3C650.9,442.6 652.5,442.9 654.2,443.2C655.9,443.5 657.5,443.8 659.2,444C660.9,444.3 662.5,444.6 664.2,444.9C665.9,445.2 667.5,445.4 669.2,445.7C670.9,445.9 672.5,446.2 674.2,446.4C675.9,446.7 677.5,446.9 679.2,447.1C680.9,447.4 682.5,447.6 684.2,447.7C685.9,447.9 687.5,448.1 689.2,448.3C690.9,448.4 692.5,448.6 694.2,448.7C695.9,448.9 697.5,449 699.2,449.2C700.9,449.4 702.5,449.5 704.2,449.7C705.9,449.9 707.5,450.1 709.2,450.3C710.9,450.5 712.5,450.8 714.2,451C715.9,451.3 717.5,451.6 719.2,451.8C720.9,452.1 722.5,452.4 724.2,452.7C725.9,452.9 727.5,453.2 729.2,453.5C730.9,453.8 732.5,454 734.2,454.3C735.9,454.6 737.5,454.8 739.2,455.1C740.9,455.4 742.5,455.6 744.2,455.8C745.9,456.1 747.5,456.3 749.2,456.5C750.9,456.7 752.5,457 754.2,457.2C755.9,457.4 757.5,457.5 759.2,457.7C760.9,457.9 763.1,458.1 764.2,458.2C765.3,458.3 765.4,458.5 765.6,458.5" stroke="#2189d2" stroke-width="5.4" stroke-linecap="round"/>
</g>
<path d="M747.2,287H768.3" stroke="#6c1a70" stroke-width="1.6"/>
<path d="M747.2,301H768.3" stroke="#e07834" stroke-width="1.6"/>
<path d="M748,314.9H768" stroke="#2189d2" stroke-width="5.4" stroke-linecap="round"/>
<text x="777.2" y="290.4" font-size="9.6" fill="#262626">MA30</text>
<text x="777.2" y="304.4" font-size="9.6" fill="#262626">MA60</text>
<text x="777.2" y="318.3" font-size="9.6" fill="#262626">MA90</text>
<rect x="192.6" y="236.8" width="435.5" height="27" rx="3.5" fill="#2688d0" stroke="#33196b" stroke-width="1.8"/>
<text y="255.8" font-size="17.3" fill="#eefaff"><tspan x="196.7">2022</tspan><tspan x="233.7" dy="-1.8" textLength="14" lengthAdjust="spacingAndGlyphs">-</tspan><tspan x="246" dy="1.8">06</tspan><tspan x="263.2" dy="-1.8" textLength="14" lengthAdjust="spacingAndGlyphs">-</tspan><tspan x="274" dy="1.8">23</tspan> <tspan x="300">30</tspan><tspan x="317.7" font-size="16.2">日</tspan><tspan x="333.4">,60</tspan><tspan x="357" font-size="16.2">日</tspan><tspan x="374.2">,90</tspan><tspan x="397.9" font-size="16.2">日均线形成</tspan><tspan x="475" font-size="16.2">【</tspan><tspan x="495.2" font-size="16.2">乌云密布</tspan><tspan x="563.3" font-size="16.2">】</tspan><tspan x="575" font-size="16.2">卖出点</tspan></text>
<path d="M596.4,266.4L544,280.3" stroke="#2b80c2" stroke-width="3"/>
<path d="M536.2,282.6L545.3,274.6L548.6,284.2Z" fill="#2b80c2"/>
<defs><clipPath id="cc"><path d="M33.4,339.3C33.9,338.5 34.3,336.3 36.1,334.6C37.9,332.9 42.6,330.8 44.2,329.2C45.8,327.6 44.6,326.2 45.5,325.2C46.4,324.2 47.9,323.2 49.5,323.2C51.1,323.2 53.1,324.8 54.9,325.2C56.7,325.6 58.5,325.4 60.3,325.9C62.1,326.3 64.6,328.7 65.7,327.9C66.8,327.1 66.7,324 67,321.1C67.3,318.2 67.5,312.9 67.7,310.4C67.9,307.9 67.6,307.4 68.4,306.3C69.2,305.2 71.7,305.2 72.4,303.6C73.1,302 71.7,298.6 72.4,296.9C73.1,295.2 74.9,295 76.5,293.6C78.1,292.2 80,289.7 81.8,288.8C83.6,287.9 85.5,287.8 87.2,288.2C88.9,288.6 90.1,291.2 91.9,291.5C93.7,291.8 96.1,290.6 98,290.2C99.9,289.8 101.6,288.6 103.4,288.8C105.2,289 107.4,290.8 108.8,291.5C110.2,292.2 110.9,293.7 112,293C113.1,292.3 114.2,289.5 115.5,287.5C116.8,285.5 117.8,282.7 119.5,280.8C121.2,278.9 123.1,277 125.4,276.1C127.7,275.2 130.8,275.2 133.5,275.4C136.2,275.6 139.7,276.4 141.5,277.4C143.3,278.4 142.8,280.9 144.2,281.4C145.5,281.8 148,279.8 149.6,280.1C151.2,280.5 152.7,281.1 153.6,283.5C154.5,285.9 154.3,291.7 155,294.2C155.7,296.7 156.6,298 157.7,298.3C158.8,298.6 160.1,296.8 161.7,296.2C163.3,295.6 165.1,295 167.1,294.9C169.1,294.8 171.6,295.3 173.8,295.6C176.1,295.9 178.8,296.3 180.6,296.9C182.4,297.4 183,298.2 184.6,298.9C186.2,299.6 188.4,299.8 190,301C191.6,302.2 192.9,304.3 194,306.3C195.1,308.3 195.3,312.4 196.7,313.1C198,313.8 200.3,311.1 202.1,310.4C203.9,309.7 205.5,309 207.5,309C209.5,309 212.4,309.3 214.2,310.4C216,311.5 217.5,313.4 218.3,315.5C219.1,317.6 217.2,321.7 218.8,323.1C220.4,324.5 225.6,323.1 228.1,324C230.6,324.9 232.5,326.7 233.8,328.8C235.1,330.9 235.4,334.5 235.8,336.5C236.2,338.5 235.2,340.8 236,341C236.8,341.2 239.2,337.9 240.5,337.5C241.8,337.1 243.2,337.7 243.5,338.5C243.8,339.3 241.4,342 242,342.5C242.6,343 245.8,341.8 247.3,341.3C248.8,340.8 249.3,339.5 251.2,339.4C253.1,339.2 256.6,341 258.8,340.4C261,339.8 262.5,336.6 264.6,335.6C266.7,334.6 269.4,333.8 271.3,334.6C273.2,335.4 274.9,338.1 276.2,340.4C277.5,342.6 278.7,345.2 279,348.1C279.3,351 278.6,354.2 278.1,357.7C277.6,361.2 277.2,365.3 276.2,369.2C275.2,373.1 273.6,377.6 272.3,380.8C271,384 270.8,386.6 268.5,388.5C266.2,390.4 262,391 258.8,392.3C255.6,393.6 252.7,395.4 249.2,396.2C245.7,397 241.9,397.4 237.7,397.1C233.5,396.8 227.7,395.3 224.2,394.2C220.7,393.1 218.1,392 216.5,390.4C214.9,388.8 215.4,385.7 214.6,384.5C213.8,383.3 213.8,383.3 211.5,383.2C209.2,383.1 204.2,383.9 200.8,383.8C197.4,383.7 195.1,382.5 191.3,382.5C187.5,382.5 182.4,382.9 177.9,383.8C173.4,384.7 168.5,387 164.4,387.9C160.3,388.8 157.4,389.4 153.6,389.2C149.8,389 144.8,387.3 141.5,386.5C138.2,385.7 136.7,384.5 133.5,384.5C130.3,384.5 126.3,385.7 122.2,386.5C118.1,387.3 113.3,388.1 108.8,389.2C104.3,390.3 99.8,392.2 95.3,393.3C90.8,394.4 85.6,395.3 81.8,396C78,396.7 75.5,397.5 72.4,397.3C69.3,397.1 66.8,394.5 63,394.6C59.2,394.7 53.5,397.6 49.5,398C45.5,398.4 41.5,397.6 38.8,397.3C36.1,397 33.8,396.7 33.4,396C33,395.3 34.3,394 36.1,393.3C37.9,392.6 42.2,393 44.2,391.9C46.2,390.8 46.9,388.3 48.2,386.5C49.5,384.7 50.6,382.6 52.2,381.1C53.8,379.6 57.5,378.6 58,377.5C58.5,376.4 56.3,375.8 54.9,374.4C53.5,373 50.6,371.5 49.5,369C48.4,366.5 49.5,360.9 48.2,359.6C46.9,358.3 43.8,361.4 41.5,361C39.2,360.6 36.3,359.1 34.7,356.9C33.1,354.6 32.2,350.4 32,347.5C31.8,344.6 33.2,340.7 33.4,339.3Z"/></clipPath><filter id="bl" x="-5%" y="-5%" width="110%" height="110%"><feGaussianBlur stdDeviation="0.7"/></filter></defs>
<path d="M33.4,339.3C33.9,338.5 34.3,336.3 36.1,334.6C37.9,332.9 42.6,330.8 44.2,329.2C45.8,327.6 44.6,326.2 45.5,325.2C46.4,324.2 47.9,323.2 49.5,323.2C51.1,323.2 53.1,324.8 54.9,325.2C56.7,325.6 58.5,325.4 60.3,325.9C62.1,326.3 64.6,328.7 65.7,327.9C66.8,327.1 66.7,324 67,321.1C67.3,318.2 67.5,312.9 67.7,310.4C67.9,307.9 67.6,307.4 68.4,306.3C69.2,305.2 71.7,305.2 72.4,303.6C73.1,302 71.7,298.6 72.4,296.9C73.1,295.2 74.9,295 76.5,293.6C78.1,292.2 80,289.7 81.8,288.8C83.6,287.9 85.5,287.8 87.2,288.2C88.9,288.6 90.1,291.2 91.9,291.5C93.7,291.8 96.1,290.6 98,290.2C99.9,289.8 101.6,288.6 103.4,288.8C105.2,289 107.4,290.8 108.8,291.5C110.2,292.2 110.9,293.7 112,293C113.1,292.3 114.2,289.5 115.5,287.5C116.8,285.5 117.8,282.7 119.5,280.8C121.2,278.9 123.1,277 125.4,276.1C127.7,275.2 130.8,275.2 133.5,275.4C136.2,275.6 139.7,276.4 141.5,277.4C143.3,278.4 142.8,280.9 144.2,281.4C145.5,281.8 148,279.8 149.6,280.1C151.2,280.5 152.7,281.1 153.6,283.5C154.5,285.9 154.3,291.7 155,294.2C155.7,296.7 156.6,298 157.7,298.3C158.8,298.6 160.1,296.8 161.7,296.2C163.3,295.6 165.1,295 167.1,294.9C169.1,294.8 171.6,295.3 173.8,295.6C176.1,295.9 178.8,296.3 180.6,296.9C182.4,297.4 183,298.2 184.6,298.9C186.2,299.6 188.4,299.8 190,301C191.6,302.2 192.9,304.3 194,306.3C195.1,308.3 195.3,312.4 196.7,313.1C198,313.8 200.3,311.1 202.1,310.4C203.9,309.7 205.5,309 207.5,309C209.5,309 212.4,309.3 214.2,310.4C216,311.5 217.5,313.4 218.3,315.5C219.1,317.6 217.2,321.7 218.8,323.1C220.4,324.5 225.6,323.1 228.1,324C230.6,324.9 232.5,326.7 233.8,328.8C235.1,330.9 235.4,334.5 235.8,336.5C236.2,338.5 235.2,340.8 236,341C236.8,341.2 239.2,337.9 240.5,337.5C241.8,337.1 243.2,337.7 243.5,338.5C243.8,339.3 241.4,342 242,342.5C242.6,343 245.8,341.8 247.3,341.3C248.8,340.8 249.3,339.5 251.2,339.4C253.1,339.2 256.6,341 258.8,340.4C261,339.8 262.5,336.6 264.6,335.6C266.7,334.6 269.4,333.8 271.3,334.6C273.2,335.4 274.9,338.1 276.2,340.4C277.5,342.6 278.7,345.2 279,348.1C279.3,351 278.6,354.2 278.1,357.7C277.6,361.2 277.2,365.3 276.2,369.2C275.2,373.1 273.6,377.6 272.3,380.8C271,384 270.8,386.6 268.5,388.5C266.2,390.4 262,391 258.8,392.3C255.6,393.6 252.7,395.4 249.2,396.2C245.7,397 241.9,397.4 237.7,397.1C233.5,396.8 227.7,395.3 224.2,394.2C220.7,393.1 218.1,392 216.5,390.4C214.9,388.8 215.4,385.7 214.6,384.5C213.8,383.3 213.8,383.3 211.5,383.2C209.2,383.1 204.2,383.9 200.8,383.8C197.4,383.7 195.1,382.5 191.3,382.5C187.5,382.5 182.4,382.9 177.9,383.8C173.4,384.7 168.5,387 164.4,387.9C160.3,388.8 157.4,389.4 153.6,389.2C149.8,389 144.8,387.3 141.5,386.5C138.2,385.7 136.7,384.5 133.5,384.5C130.3,384.5 126.3,385.7 122.2,386.5C118.1,387.3 113.3,388.1 108.8,389.2C104.3,390.3 99.8,392.2 95.3,393.3C90.8,394.4 85.6,395.3 81.8,396C78,396.7 75.5,397.5 72.4,397.3C69.3,397.1 66.8,394.5 63,394.6C59.2,394.7 53.5,397.6 49.5,398C45.5,398.4 41.5,397.6 38.8,397.3C36.1,397 33.8,396.7 33.4,396C33,395.3 34.3,394 36.1,393.3C37.9,392.6 42.2,393 44.2,391.9C46.2,390.8 46.9,388.3 48.2,386.5C49.5,384.7 50.6,382.6 52.2,381.1C53.8,379.6 57.5,378.6 58,377.5C58.5,376.4 56.3,375.8 54.9,374.4C53.5,373 50.6,371.5 49.5,369C48.4,366.5 49.5,360.9 48.2,359.6C46.9,358.3 43.8,361.4 41.5,361C39.2,360.6 36.3,359.1 34.7,356.9C33.1,354.6 32.2,350.4 32,347.5C31.8,344.6 33.2,340.7 33.4,339.3Z" fill="#5d6b97"/>
<g clip-path="url(#cc)"><g filter="url(#bl)">
<ellipse cx="150" cy="369" rx="75" ry="14" fill="#323a63"/>
<ellipse cx="92" cy="373" rx="34" ry="15" fill="#38436f"/>
<ellipse cx="200" cy="370" rx="22" ry="12" fill="#39426c"/>
<ellipse cx="70" cy="389" rx="30" ry="8" fill="#5a6898"/>
<ellipse cx="45" cy="393" rx="12" ry="4" fill="#5f6d9c"/>
<ellipse cx="115" cy="386" rx="16" ry="4" fill="#55638f"/>
<ellipse cx="136" cy="292" rx="20" ry="17" fill="#4b5a83"/>
<ellipse cx="126" cy="283" rx="9" ry="7" fill="#55668f"/>
<ellipse cx="146" cy="312" rx="12" ry="13" fill="#2f3858"/>
<ellipse cx="152" cy="298" rx="6" ry="8" fill="#3a4468"/>
<ellipse cx="42" cy="346" rx="10.5" ry="11" fill="#2c4a7c"/>
<ellipse cx="44" cy="347" rx="4.5" ry="6.5" fill="#8a90c0"/>
<ellipse cx="53" cy="347" rx="6" ry="8" fill="#2f5cb0"/>
<ellipse cx="50" cy="328" rx="6" ry="5" fill="#6272a6"/>
<ellipse cx="61" cy="331" rx="5" ry="5" fill="#e08080"/>
<ellipse cx="55" cy="338" rx="3.5" ry="4.5" fill="#f08a40"/>
<ellipse cx="92" cy="322" rx="27" ry="25" fill="#2f5a96"/>
<ellipse cx="116" cy="325" rx="13" ry="25" fill="#4a4a80"/>
<ellipse cx="87.6" cy="329" rx="10" ry="11" fill="#2a4a80"/>
<ellipse cx="85" cy="293" rx="7" ry="6" fill="#f08c50"/>
<ellipse cx="76" cy="300" rx="5" ry="7" fill="#e8806a"/>
<ellipse cx="71" cy="309" rx="4" ry="6" fill="#d87090"/>
<ellipse cx="73.5" cy="311" rx="5" ry="5" fill="#e06060"/>
<ellipse cx="73.5" cy="311" rx="1.8" ry="1.8" fill="#f0a050"/>
<ellipse cx="72.5" cy="321.5" rx="5" ry="4.5" fill="#2a78a8"/>
<ellipse cx="90" cy="306" rx="10" ry="12" fill="#2a70b8"/>
<ellipse cx="89" cy="313" rx="6" ry="6" fill="#40a0d8"/>
<ellipse cx="98" cy="314" rx="6" ry="6" fill="#205880"/>
<ellipse cx="104" cy="295.5" rx="7" ry="6" fill="#3090b0"/>
<ellipse cx="108" cy="297.5" rx="4.5" ry="4" fill="#e07080"/>
<ellipse cx="100.3" cy="325" rx="2.5" ry="6" fill="#c82848"/>
<ellipse cx="117" cy="300" rx="4.5" ry="1.8" fill="#e8a040"/>
<ellipse cx="110" cy="313.5" rx="6" ry="7" fill="#8070b0"/>
<ellipse cx="123" cy="330" rx="7" ry="10" fill="#3aa8e0"/>
<ellipse cx="62.7" cy="328.4" rx="3" ry="3" fill="#e07888"/>
<ellipse cx="64.6" cy="337.8" rx="3.5" ry="6.8" fill="#3a9ad8"/>
<ellipse cx="72" cy="332.5" rx="4" ry="4" fill="#f09050"/>
<ellipse cx="77.5" cy="343" rx="9.5" ry="7" fill="#9a70a8"/>
<ellipse cx="58" cy="364" rx="5" ry="7" fill="#35a5d8"/>
<ellipse cx="63" cy="361" rx="3.5" ry="5" fill="#e0603c"/>
<ellipse cx="72" cy="358" rx="7" ry="6" fill="#2a3a66"/>
<ellipse cx="89" cy="371" rx="8" ry="3" fill="#f07848"/>
<ellipse cx="73" cy="368" rx="4" ry="3.5" fill="#e07a90"/>
<ellipse cx="99" cy="356" rx="9" ry="6" fill="#3d4a7a"/>
<ellipse cx="107" cy="344" rx="6" ry="6" fill="#34447a"/>
<ellipse cx="80" cy="362" rx="5" ry="4" fill="#3a8aa8"/>
<ellipse cx="170" cy="333" rx="50" ry="25" fill="#7d89b2"/>
<ellipse cx="128" cy="340" rx="12" ry="12" fill="#7784ae"/>
<ellipse cx="162" cy="312" rx="16" ry="14" fill="#8e98bc"/>
<ellipse cx="183" cy="308" rx="15" ry="12" fill="#959fc1"/>
<ellipse cx="200" cy="318" rx="13" ry="11" fill="#8792b7"/>
<ellipse cx="146" cy="327" rx="14" ry="12" fill="#8590b6"/>
<ellipse cx="170" cy="300" rx="9" ry="6" fill="#a3abca"/>
<ellipse cx="135" cy="318" rx="10" ry="9" fill="#8793b8"/>
<ellipse cx="178" cy="323" rx="11" ry="7" fill="#4ab2e0"/>
<ellipse cx="165" cy="318" rx="5" ry="4" fill="#5cbbe4"/>
<ellipse cx="187" cy="327" rx="3" ry="4" fill="#f0a040"/>
<ellipse cx="130" cy="338" rx="9" ry="5" fill="#4ab0e0"/>
<ellipse cx="210" cy="324" rx="10" ry="10" fill="#6f7fab"/>
<ellipse cx="223" cy="332" rx="9" ry="9" fill="#6a7aa8"/>
<ellipse cx="214" cy="347" rx="9" ry="8" fill="#3a4878"/>
<ellipse cx="160" cy="350" rx="30" ry="8" fill="#6c79a6"/>
<ellipse cx="195" cy="344" rx="14" ry="8" fill="#7482ac"/>
<ellipse cx="118" cy="368" rx="8" ry="5" fill="#3a5a9a"/>
<ellipse cx="140" cy="366" rx="7" ry="4" fill="#4a4a80"/>
<ellipse cx="158" cy="372" rx="9" ry="4" fill="#2a4a78"/>
<ellipse cx="182" cy="364" rx="8" ry="4" fill="#444a7c"/>
<ellipse cx="105" cy="378" rx="7" ry="4" fill="#5a4a80"/>
<ellipse cx="130" cy="376" rx="6" ry="3" fill="#2f6a96"/>
<ellipse cx="84" cy="380" rx="6" ry="4" fill="#7a5a8e"/>
<ellipse cx="62" cy="383" rx="6" ry="3" fill="#c07080"/>
<ellipse cx="110" cy="386" rx="9" ry="3" fill="#6878a8"/>
<ellipse cx="128" cy="381" rx="14" ry="3" fill="#8a8fc0"/>
<ellipse cx="135" cy="361" rx="5" ry="4" fill="#a05080"/>
<ellipse cx="124" cy="363" rx="5" ry="3" fill="#3050a8"/>
<ellipse cx="205" cy="376" rx="14" ry="3" fill="#8a6aa0"/>
<ellipse cx="258" cy="358" rx="20" ry="21" fill="#8796c6"/>
<ellipse cx="262" cy="346" rx="13" ry="8" fill="#93a4d2"/>
<ellipse cx="264" cy="358" rx="10" ry="7" fill="#50b8e0"/>
<ellipse cx="245" cy="384" rx="20" ry="11" fill="#7282ae"/>
<ellipse cx="226" cy="379" rx="10" ry="9" fill="#7080ac"/>
<ellipse cx="268" cy="375" rx="8" ry="9" fill="#7a8abc"/>
<ellipse cx="262" cy="379" rx="3" ry="3" fill="#f0a070"/>
<ellipse cx="252" cy="367" rx="6" ry="4" fill="#8e7ab0"/>
<ellipse cx="274" cy="354" rx="4" ry="6" fill="#6fa8d8"/>
<path d="M140,377C165,375 190,371 210,363S240,349 262,343" stroke="#7a4a80" stroke-width="4.5" fill="none" stroke-linecap="round" opacity="0.85"/>
<path d="M150,383C175,381 200,376 222,366S250,352 270,348" stroke="#c06a9a" stroke-width="5" fill="none" stroke-linecap="round" opacity="0.85"/>
<path d="M160,388C185,386 210,381 232,371S258,359 276,357" stroke="#8aa4d8" stroke-width="5" fill="none" stroke-linecap="round" opacity="0.85"/>
<path d="M214,360C226,354 238,350 252,346" stroke="#f08050" stroke-width="4" fill="none" stroke-linecap="round" opacity="0.85"/>
<path d="M236,363C248,359 262,357 274,353" stroke="#4ab8e0" stroke-width="5.5" fill="none" stroke-linecap="round" opacity="0.85"/>
<path d="M178,392C200,391 225,385 245,375" stroke="#9a88c0" stroke-width="4" fill="none" stroke-linecap="round" opacity="0.85"/>
<path d="M244,379C254,375 262,373 272,369" stroke="#e08a90" stroke-width="3.5" fill="none" stroke-linecap="round" opacity="0.85"/>
<path d="M146.5,316.5A15,15 0 0 1 173.5,316.5" fill="none" stroke="#6e7aa6" stroke-width="1"/>
<path d="M172.3,309.9A13,13 0 0 1 195.7,309.9" fill="none" stroke="#6e7aa6" stroke-width="1"/>
<path d="M193.1,321.3A11,11 0 0 1 212.9,321.3" fill="none" stroke="#6e7aa6" stroke-width="1"/>
<path d="M136.2,329.6A12,12 0 0 1 157.8,329.6" fill="none" stroke="#6e7aa6" stroke-width="1"/>
<path d="M212,334A10,10 0 0 1 230,334" fill="none" stroke="#6e7aa6" stroke-width="1"/>
<path d="M126.9,320.7A9,9 0 0 1 143.1,320.7" fill="none" stroke="#6e7aa6" stroke-width="1"/>
</g></g>
<g><path d="M229.4,466.8C236,472 235,483 229.4,487C222,491.5 214,492 207.8,494.2L209.2,497.1C216,497.8 226,497.2 232.3,495.6C239,492 242,484 240.9,475.5C240,469 238,465 232.3,459.6Z" fill="#eb9653"/><path d="M212,495.5C220,495 228,493 233,489" stroke="#f6c49a" stroke-width="1.5" fill="none"/><path d="M105,432C102,440 101,452 102,461.1C102.5,468 104,475 107,481L145.8,488.4L171.7,489.9L205,489.5C216,489 226,485 231,478C235,470 234,463 232.3,459.6C230,455 228,454 226.5,452.4C221,447.5 215,444 209.2,442.3C205,440.5 202,439.8 197.7,439.4L183.3,438.7L168.8,437.3L157.3,435.8C152,434.5 148,434.2 145.8,434.4L139,432Z" fill="#f0a262"/><path d="M111,438C107,446 106.5,456 107.5,465C110,472 117,475.5 125,475C132,473 136,467 137,457C137.5,449 136,442 133,437Z" fill="#efb899"/><path d="M108,446C107,455 107.5,464 110,471C113,468 114,458 112,447Z" fill="#d9a0a6"/><path d="M119,452C123,458 124,466 122,474L129,473C131,465 129,457 125,452Z" fill="#f5d2bf"/><path d="M146,468C160,471 176,472 186,471L203,486L205,489.5L171.7,489.9L145.8,488.4Z" fill="#d39aa0"/><path d="M182,471C190,475 197,480 203,485L199,488L184,487Z" fill="#b47890"/><path d="M153,436.5C160,437 167,438 169,441C171,450 167,458 160,465.4C156,462 153,452 153,436.5Z" fill="#d06a30"/><path d="M143,436C147,435.5 151,437 151.5,440C151,446 149,451 146,454C143,450 142,444 143,436Z" fill="#d8702e"/><path d="M181.8,439C188,438.5 196,439 201,441C199,445 193,448 186,448C182,446 181,442 181.8,439Z" fill="#c8642a"/><ellipse cx="207" cy="465" rx="24.5" ry="19.5" fill="#f6b273"/><path d="M216,450C222,449 227,452 228,458C225,460 220,459 217,455Z" fill="#d8763a"/><path d="M200,484C208,480 212,474 214,468" stroke="#e89a5e" stroke-width="1.2" fill="none"/><path d="M180.4,492.8C182,490 190,489 205,489C212,489 216,491 217.9,492.5C212,495 205,496.6 197.7,496.6L181.8,496.4C179,496 178.5,494 180.4,492.8Z" fill="#f3c1a0"/><path d="M106,471L93.3,477L78.9,481.3L64.4,485.6C60,487 57.5,489 57.9,490.7C58.5,492.5 61,493 71.6,492.8L83.2,489.9L93.3,487L110,483Z" fill="#eaa07e"/><path d="M57.9,490.7C58.5,488 61,486.5 66,486L71,491.5L71.6,492.8C64,493.2 59,493 57.9,490.7Z" fill="#f6d3c4"/><path d="M146,474C137,475.5 128,477 122.2,478.4L107.7,482.7L90.4,487L78.9,489.9C75.5,491 75,493.5 76,494.3C76.5,497 78,498 87.5,497.9L100.5,495.7L114.9,494.3L129.4,492.8L143.8,489.9C148,486 148.5,479 146,474Z" fill="#f3ab6c"/><path d="M76,494.3C76.5,491 79,489.5 84,489.3L89,496L87.5,497.9C80,498 76.5,497 76,494.3Z" fill="#f6d3c4"/><g transform="translate(124,418) scale(1.07) translate(-124,-418)"><path d="M104.6,405C106,399.5 114,398.5 122,398.7C130,398.5 137,399.5 139.8,405C142.5,415 142,426 137,433.5C131,438.5 117,438.5 110,434.5C104.5,427 102.5,416 104.6,405Z" fill="#e8924c"/><path d="M120,399.5C123,399 126,399 128,399.5L128,418L120,418Z" fill="#f4c193"/><ellipse cx="124.5" cy="429.5" rx="12" ry="8" fill="#fae3d6"/><path d="M107.5,399.4C101,399.5 96,403 93.8,407.7C93.5,414 95.5,420 100.6,426.3C104,422 106,414 108.5,404.8Z" fill="#9c5a6a"/><path d="M107.5,399.4L108.5,404.8C106,413 104.5,419 102.5,423.5L104.5,422C107,414 109,406 109.5,401Z" fill="#5e2c48"/><path d="M135.9,400.4C141,400.6 146,404 149.5,412.6C149,418 147,423 143.7,426.3C140.5,423 138.5,418 137.5,412C136.5,407 136,403 135.9,400.4Z" fill="#9c5a6a"/><path d="M135.9,400.4L134.5,402C135.5,408 137,418 141,425L143,426C139.5,419 137.5,408 135.9,400.4Z" fill="#5e2c48"/><path d="M110.9,404.3C113,402 117,401.3 120.2,401.8M127.1,401.4C130,401.5 133.5,402.8 135.9,405.3" stroke="#3a1a22" stroke-width="2.2" fill="none" stroke-linecap="round"/><circle cx="114.3" cy="412.6" r="4.8" fill="#fff" stroke="#2a1018" stroke-width="1"/><circle cx="114.6" cy="412.9" r="3.1" fill="#111"/><circle cx="131.5" cy="413.1" r="4.8" fill="#fff" stroke="#2a1018" stroke-width="1"/><circle cx="131.2" cy="413.4" r="3.1" fill="#111"/><ellipse cx="125.1" cy="425.8" rx="6.8" ry="5.3" fill="#141016"/><ellipse cx="127" cy="423.8" rx="2" ry="1.2" fill="#555"/><path d="M113.4,434.1C117,435.5 121,435 125,434.2C127,434.6 129,435 130,434.6" stroke="#4a2020" stroke-width="1" fill="none"/></g></g>
<g><defs><radialGradient id="dg" cx="0.5" cy="0.5" r="0.5"><stop offset="0.7" stop-color="#1b1820"/><stop offset="1" stop-color="#3a3540"/></radialGradient></defs><path d="M766.4,445.2L770.5,449.5L768.8,451L774.3,455.6M779.5,441.2L777.5,446L779,447.8M813.5,462.2L809.6,464.8" stroke="#e07858" stroke-width="1.5" fill="none"/><filter id="dglow" x="-20%" y="-20%" width="140%" height="140%"><feGaussianBlur stdDeviation="1.3"/></filter><g filter="url(#dglow)" opacity="0.8"><circle cx="788.6" cy="454.8" r="11.399999999999999" fill="#4a4652"/><circle cx="771.6" cy="466.1" r="11.7" fill="#4a4652"/><circle cx="805.5" cy="466.5" r="8.4" fill="#4a4652"/><circle cx="793.9" cy="469" r="11.2" fill="#4a4652"/><circle cx="765.1" cy="474" r="7.7" fill="#4a4652"/><circle cx="780" cy="474" r="9.2" fill="#4a4652"/><circle cx="801" cy="475" r="7.7" fill="#4a4652"/></g><circle cx="788.6" cy="454.8" r="10.2" fill="#1b1820"/><circle cx="771.6" cy="466.1" r="10.5" fill="#1b1820"/><circle cx="805.5" cy="466.5" r="7.2" fill="#1b1820"/><circle cx="793.9" cy="469" r="10" fill="#1b1820"/><circle cx="765.1" cy="474" r="6.5" fill="#1b1820"/><circle cx="780" cy="474" r="8" fill="#1b1820"/><circle cx="801" cy="475" r="6.5" fill="#1b1820"/><ellipse cx="787" cy="468" rx="20" ry="10" fill="#1b1820"/><path d="M785,466A10,10 0 0 1 802,464" stroke="#4a4552" stroke-width="1" fill="none"/><path d="M774.3,455.6L772,452.5L776,456" stroke="#e07858" stroke-width="1.2" fill="none"/><circle cx="765.1" cy="491" r="7" fill="#17151b" stroke="#c8c8d2" stroke-width="1.1"/><circle cx="777" cy="488.8" r="7.6" fill="#17151b" stroke="#c8c8d2" stroke-width="1.1"/><circle cx="807" cy="490" r="6.8" fill="#17151b" stroke="#c8c8d2" stroke-width="1.1"/><circle cx="796.5" cy="492.4" r="7.2" fill="#17151b" stroke="#c8c8d2" stroke-width="1.1"/><circle cx="786" cy="493.4" r="7.2" fill="#17151b" stroke="#c8c8d2" stroke-width="1.1"/></g>
</svg></body></html>
